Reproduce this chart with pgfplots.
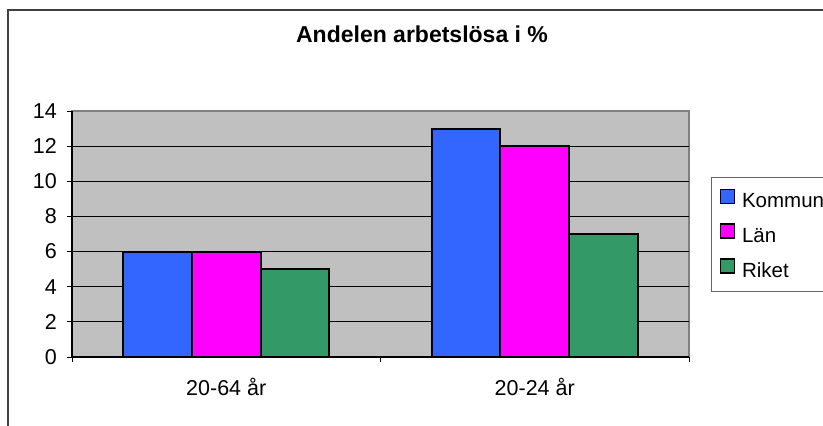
\documentclass[border=0pt]{standalone}
\usepackage{fontspec}
\setmainfont{Liberation Sans}
\usepackage{pgfplots}
\pgfplotsset{compat=1.18}
\definecolor{kommun}{HTML}{3366FF}
\definecolor{lan}{HTML}{FF00FF}
\definecolor{riket}{HTML}{339966}
\definecolor{plotbg}{HTML}{C0C0C0}
\begin{document}
\begin{tikzpicture}[x=1bp,y=1bp]
\useasboundingbox (0,0) rectangle (823,425);
\draw[line width=1.5bp, color=black!75] (8,-5) -- (8,415) -- (823,415);
\begin{axis}[
  at={(72bp,68bp)}, anchor=south west,
  scale only axis, width=617bp, height=246bp,
  ybar, bar width=0.2222,
  xmin=-0.5, xmax=1.5, ymin=0, ymax=14,
  axis background/.style={fill=plotbg, draw=black!50, line width=1.2bp},
  axis x line*=bottom, axis y line*=left,
  axis line style={black, line width=1.2bp, -},
  tick align=outside, major tick length=5bp,
  tick style={black, line width=1bp},
  xtick={-0.5,0.5,1.5}, xticklabels={},
  extra x ticks={0,1}, extra x tick labels={20-64 år,20-24 år},
  extra x tick style={major tick length=0pt,
    xticklabel style={anchor=base, yshift=-38bp, inner sep=0pt}},
  ytick={0,2,...,14},
  extra y ticks={2,4,...,12}, extra y tick labels={},
  extra y tick style={ymajorgrids=true, major tick length=0pt,
    major grid style={black, line width=1bp}},
  tick label style={font=\fontsize{21.5bp}{25bp}\selectfont},
  /pgf/number format/assume math mode=true,
  yticklabel style={anchor=east, inner sep=0pt, xshift=-10bp},
  title={Andelen arbetslösa i \%},
  title style={font=\bfseries\fontsize{23bp}{27bp}\selectfont,
    at={(0.5673,1.256)}, anchor=base, inner sep=0pt},
  legend style={at={(1.0357,0.7317)}, anchor=north west,
    draw=black!60, line width=1bp, fill=white,
    inner xsep=8bp, inner ysep=11bp, row sep=12.5bp, column sep=7bp,
    font=\fontsize{20.5bp}{24bp}\selectfont,
    nodes={inner sep=0pt, text height=14bp, text depth=3bp}},
  legend cell align=left,
  every axis plot/.append style={draw=black, line width=2bp,
    legend image code/.code={\draw[#1, draw=black, line width=1.5bp] (0bp,-1bp) rectangle (14bp,13bp);}},
]
\addplot[bar shift=-0.2222, fill=kommun, draw=black] coordinates {(0,6) (1,13)};
\addplot[bar shift=0, fill=lan, draw=black] coordinates {(0,6) (1,12)};
\addplot[bar shift=0.2222, fill=riket, draw=black] coordinates {(0,5) (1,7)};
\legend{Kommun,Län,Riket}
\end{axis}
\end{tikzpicture}
\end{document}
